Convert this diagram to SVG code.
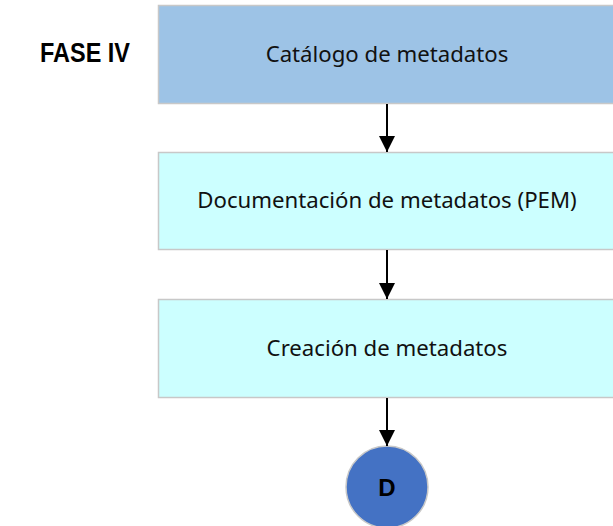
<svg xmlns="http://www.w3.org/2000/svg" width="613" height="526" viewBox="0 0 613 526">
<defs>
<style>
.box{stroke:#c8c8c8;stroke-width:1.5}
.t{font-family:"Noto Sans","Open Sans",sans-serif;font-size:22.2px;fill:#111;text-anchor:middle}
.c{stroke:#000;stroke-width:2;fill:none}
</style>
<marker id="ah" markerWidth="16" markerHeight="16" refX="16" refY="8" orient="auto" markerUnits="userSpaceOnUse" viewBox="0 0 16 16">
<path d="M0,0 L16,8 L0,16 Z" fill="#000"/>
</marker>
</defs>
<rect width="613" height="526" fill="#fff"/>
<g id="label">
<text x="85" y="62" font-family="Liberation Sans, Arial, sans-serif" font-weight="bold" font-size="28" text-anchor="middle" textLength="90" lengthAdjust="spacingAndGlyphs" fill="#000">FASE IV</text>
</g>
<g id="n1">
<rect class="box" x="158.5" y="5.5" width="460" height="98" fill="#9dc3e6"/>
<text class="t" x="387" y="62">Catálogo de metadatos</text>
</g>
<g id="n2">
<rect class="box" x="158.5" y="152.5" width="460" height="97" fill="#ccffff"/>
<text class="t" x="387" y="208">Documentación de metadatos (PEM)</text>
</g>
<g id="n3">
<rect class="box" x="158.5" y="299.5" width="460" height="98" fill="#ccffff"/>
<text class="t" x="387" y="356">Creación de metadatos</text>
</g>
<g id="n4">
<circle cx="387" cy="487" r="41" fill="#4472c4" stroke="#c8c8c8" stroke-width="1.5"/>
<text x="387" y="496" font-family="Liberation Sans, Arial, sans-serif" font-weight="bold" font-size="24" text-anchor="middle" fill="#000">D</text>
</g>
<g id="connectors">
<line class="c" x1="387" y1="104" x2="387" y2="152" marker-end="url(#ah)"/>
<line class="c" x1="387" y1="250" x2="387" y2="299" marker-end="url(#ah)"/>
<line class="c" x1="387" y1="398" x2="387" y2="446" marker-end="url(#ah)"/>
</g>
</svg>
